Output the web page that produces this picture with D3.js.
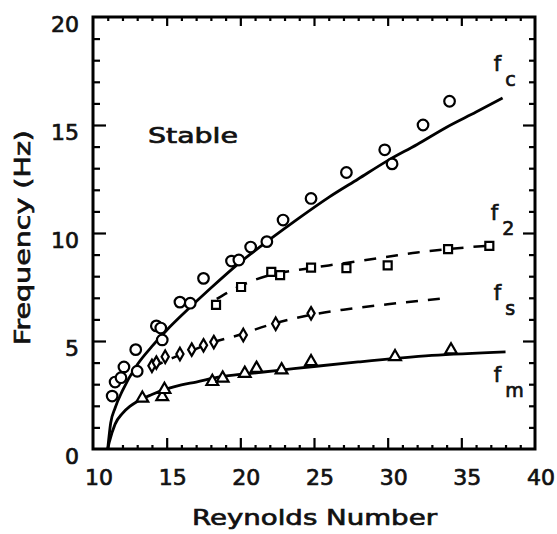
<!DOCTYPE html>
<html><head><meta charset="utf-8">
<script src="https://cdn.jsdelivr.net/npm/d3@7"></script>
<style>html,body{margin:0;padding:0;background:#fff;}svg{display:block;}
text{stroke:#111;stroke-width:0.7px;}</style>
</head><body>
<script>
// ---- data ----
const xTickLabels = [10, 15, 20, 25, 30, 35, 40];
const yTickLabels = [0, 5, 10, 15, 20];
const xMinorTicks = d3.range(11, 40, 1);
const yMinorTicks = d3.range(1, 20, 1);

// f_c circles
const fcRe = [11.3, 11.5, 11.9, 12.1, 12.9, 13.0, 14.3, 14.6, 14.7, 15.9, 16.6, 17.5, 19.4, 19.9, 20.7, 21.8, 22.9, 24.8, 27.2, 29.8, 30.3, 32.4, 34.2];
const fcF  = [2.45, 3.1, 3.3, 3.8, 4.6, 3.6, 5.7, 5.6, 5.05, 6.8, 6.75, 7.9, 8.7, 8.75, 9.35, 9.6, 10.6, 11.6, 12.8, 13.85, 13.2, 15.0, 16.1];
// f_c fitted curve
const fcCurveRe = [11.0, 11.2, 11.5, 12, 13, 14, 15, 16.5, 18, 20, 22, 24, 26, 28, 30, 32, 34, 36, 37.8];
const fcCurveF  = [0, 1.2, 1.9, 2.7, 3.9, 4.75, 5.5, 6.5, 7.45, 8.65, 9.7, 10.7, 11.65, 12.5, 13.35, 14.1, 14.9, 15.6, 16.25];

// f_2 squares
const f2Re = [18.35, 20.05, 22.1, 22.7, 24.8, 27.2, 30.0, 34.1, 36.9];
const f2F  = [6.67, 7.5, 8.2, 8.05, 8.4, 8.37, 8.5, 9.25, 9.4];
const f2LineRe = [18.4, 20, 22, 24, 26, 28, 30, 32, 34, 37];
const f2LineF  = [6.95, 7.55, 8.05, 8.3, 8.5, 8.7, 8.9, 9.1, 9.25, 9.42];

// f_s diamonds
const fsRe = [14.0, 14.3, 14.9, 15.9, 16.7, 17.5, 18.2, 20.2, 22.4, 24.8];
const fsF  = [3.85, 4.0, 4.27, 4.4, 4.6, 4.8, 4.95, 5.28, 5.8, 6.28];
const fsLineRe = [14, 15, 16.5, 18, 20, 22, 24.7, 27, 30, 34.2];
const fsLineF  = [3.75, 4.1, 4.5, 4.9, 5.3, 5.75, 6.2, 6.45, 6.7, 7.0];

// f_m triangles
const fmRe = [13.35, 14.7, 14.85, 18.1, 18.8, 20.3, 21.1, 22.8, 24.8, 30.5, 34.3];
const fmF  = [2.35, 2.42, 2.75, 3.12, 3.28, 3.5, 3.73, 3.66, 4.04, 4.27, 4.58];
const fmCurveRe = [11.0, 11.1, 11.5, 12, 12.5, 13, 14, 15, 16, 17, 18.5, 20, 22.6, 25, 28, 33, 38];
const fmCurveF  = [0, 0.3, 1.15, 1.65, 1.97, 2.2, 2.52, 2.78, 2.97, 3.1, 3.33, 3.45, 3.64, 3.82, 4.03, 4.33, 4.5];

const curveLabels = [
  {main: "f", sub: "c", re: 37.2, f: 17.5},
  {main: "f", sub: "2", re: 37.0, f: 10.6},
  {main: "f", sub: "s", re: 37.2, f: 6.9},
  {main: "f", sub: "m", re: 37.2, f: 3.1}
];

// ---- drawing ----
const W = 557, H = 534;
const svg = d3.select("body").append("svg").attr("width", W).attr("height", H);
const x = d3.scaleLinear().domain([10, 40]).range([93, 535]);
const y = d3.scaleLinear().domain([0, 20]).range([449, 17]);
const FONT = "'DejaVu Sans', sans-serif";

const zip = (a, b) => a.map((v, i) => [v, b[i]]);

// axes ticks (inward)
function tickAxis(axisFn, scale, vals, size, transform) {
  svg.append("g").attr("transform", transform)
    .call(axisFn(scale).tickValues(vals).tickSize(size).tickFormat(""))
    .call(g => g.select(".domain").remove())
    .call(g => g.selectAll("line").attr("stroke", "#000").attr("stroke-width", 2.2));
}
const majX = [15, 20, 25, 30, 35];
const majY = [5, 10, 15];
const minX = xMinorTicks.filter(v => !majX.includes(v));
const minY = yMinorTicks.filter(v => !majY.includes(v));
tickAxis(d3.axisBottom, x, minX, -4, `translate(0,${y(0)})`);
tickAxis(d3.axisBottom, x, majX, -11, `translate(0,${y(0)})`);
tickAxis(d3.axisTop, x, minX, -4, `translate(0,${y(20)})`);
tickAxis(d3.axisTop, x, majX, -9, `translate(0,${y(20)})`);
tickAxis(d3.axisLeft, y, minY, -7, `translate(${x(10)},0)`);
tickAxis(d3.axisLeft, y, majY, -13, `translate(${x(10)},0)`);
tickAxis(d3.axisRight, y, minY, -6, `translate(${x(40)},0)`);
tickAxis(d3.axisRight, y, majY, -12, `translate(${x(40)},0)`);

// frame
svg.append("rect").attr("x", x(10)).attr("y", y(20))
  .attr("width", x(40) - x(10)).attr("height", y(0) - y(20))
  .attr("fill", "none").attr("stroke", "#000").attr("stroke-width", 3);

// tick labels
svg.append("g").selectAll("text").data(xTickLabels).join("text")
  .attr("x", d => x(d) + 6).attr("y", 485)
  .attr("text-anchor", "middle").attr("font-family", FONT).attr("font-size", 22)
  .attr("fill", "#111").text(d => d);
svg.append("g").selectAll("text").data(yTickLabels).join("text")
  .attr("x", 79).attr("y", d => y(d) + 15)
  .attr("text-anchor", "end").attr("font-family", FONT).attr("font-size", 22)
  .attr("fill", "#111").text(d => d);

// axis titles
svg.append("text").attr("x", 192).attr("y", 525)
  .attr("textLength", 245).attr("lengthAdjust", "spacingAndGlyphs")
  .attr("font-family", FONT).attr("font-size", 22).attr("fill", "#111")
  .text("Reynolds Number");
svg.append("text").attr("transform", "translate(30,345) rotate(-90)")
  .attr("textLength", 215).attr("lengthAdjust", "spacingAndGlyphs")
  .attr("font-family", FONT).attr("font-size", 22).attr("fill", "#111")
  .text("Frequency (Hz)");
svg.append("text").attr("x", 148).attr("y", 143)
  .attr("textLength", 90).attr("lengthAdjust", "spacingAndGlyphs")
  .attr("font-family", FONT).attr("font-size", 21).attr("fill", "#111")
  .text("Stable");

// curves
const line = d3.line().x(d => x(d[0])).y(d => y(d[1])).curve(d3.curveMonotoneX);
const g = svg.append("g").attr("fill", "none").attr("stroke", "#000");
g.append("path").attr("d", line(zip(fcCurveRe, fcCurveF))).attr("stroke-width", 2.8);
g.append("path").attr("d", line(zip(fmCurveRe, fmCurveF))).attr("stroke-width", 2.8);
g.append("path").attr("d", line(zip(f2LineRe, f2LineF))).attr("stroke-width", 2.5).attr("stroke-dasharray", "12,10");
g.append("path").attr("d", line(zip(fsLineRe, fsLineF))).attr("stroke-width", 2.5).attr("stroke-dasharray", "12,10");

// markers
const mk = svg.append("g").attr("fill", "#fff").attr("stroke", "#000").attr("stroke-width", 2.2);
mk.selectAll("circle.fc").data(zip(fcRe, fcF)).join("circle").attr("class", "fc")
  .attr("cx", d => x(d[0])).attr("cy", d => y(d[1])).attr("r", 5.3);
mk.selectAll("path.f2").data(zip(f2Re, f2F)).join("path").attr("class", "f2")
  .attr("transform", d => `translate(${x(d[0])},${y(d[1])})`)
  .attr("d", d3.symbol(d3.symbolSquare, 64)());
mk.selectAll("path.fs").data(zip(fsRe, fsF)).join("path").attr("class", "fs")
  .attr("transform", d => `translate(${x(d[0])},${y(d[1])})`)
  .attr("d", d3.symbol(d3.symbolDiamond, 45)());
mk.selectAll("path.fm").data(zip(fmRe, fmF)).join("path").attr("class", "fm")
  .attr("transform", d => `translate(${x(d[0])},${y(d[1])})`)
  .attr("d", d3.symbol(d3.symbolTriangle, 60)());

// curve labels
const lab = svg.append("g").attr("font-family", FONT).attr("fill", "#111");
curveLabels.forEach(c => {
  const t = lab.append("text").attr("x", x(c.re)).attr("y", y(c.f)).attr("font-size", 21);
  t.append("tspan").text(c.main);
  t.append("tspan").attr("dx", 4).attr("dy", 15).attr("font-size", 19).text(c.sub);
});
</script>
</body></html>
